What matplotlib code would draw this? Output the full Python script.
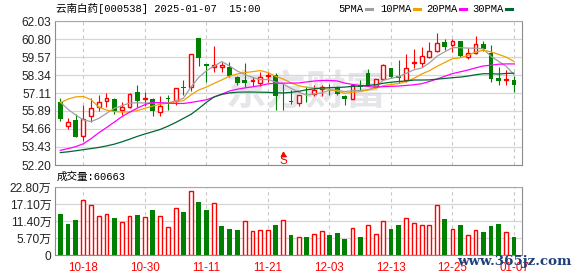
import numpy as np
import matplotlib
matplotlib.use('Agg')
import matplotlib.pyplot as plt
from matplotlib.lines import Line2D

# trading days shown (one candle each)
dates = ['10-15', '10-16', '10-17', '10-18', '10-21', '10-22', '10-23', '10-24', '10-25', '10-28',
         '10-29', '10-30', '10-31', '11-01', '11-04', '11-05', '11-06', '11-07', '11-08', '11-11',
         '11-12', '11-13', '11-14', '11-15', '11-18', '11-19', '11-20', '11-21', '11-22', '11-25',
         '11-26', '11-27', '11-28', '11-29', '12-02', '12-03', '12-04', '12-05', '12-06', '12-09',
         '12-10', '12-11', '12-12', '12-13', '12-16', '12-17', '12-18', '12-19', '12-20', '12-23',
         '12-24', '12-25', '12-26', '12-27', '12-30', '12-31', '01-02', '01-03', '01-06', '01-07']

opens = [56.50, 54.86, 55.30, 54.20, 55.56, 56.15, 56.54, 56.73, 55.95, 56.15,
         57.21, 56.69, 56.70, 55.80, 56.75, 56.59, 57.53, 57.51, 60.85, 59.09,
         58.92, 58.87, 58.91, 58.24, 58.01, 57.96, 57.83, 58.30, 58.35, 57.20,
         56.57, 56.43, 57.28, 57.06, 57.38, 57.49, 57.48, 56.93, 56.70, 57.62,
         58.46, 57.60, 58.06, 58.80, 58.25, 58.01, 59.14, 59.14, 59.59, 60.00,
         60.61, 60.36, 60.65, 59.59, 59.86, 60.43, 59.86, 58.12, 58.01, 58.01]
highs = [56.77, 55.40, 55.68, 56.30, 56.77, 57.00, 57.10, 56.76, 56.49, 57.10,
         57.66, 57.20, 56.76, 56.88, 56.99, 57.46, 58.01, 59.79, 60.88, 59.10,
         60.35, 59.25, 59.21, 58.28, 59.19, 58.24, 58.58, 58.58, 58.46, 57.78,
         57.33, 56.99, 57.56, 57.67, 57.67, 57.72, 57.60, 56.95, 57.70, 58.01,
         58.73, 58.10, 59.07, 58.82, 59.37, 59.77, 60.09, 60.27, 60.61, 61.22,
         60.77, 60.77, 60.65, 60.16, 60.99, 60.65, 60.38, 58.87, 58.69, 58.28]
lows = [55.22, 54.63, 54.10, 53.82, 55.12, 55.86, 56.19, 55.70, 55.63, 56.08,
        56.19, 56.22, 55.57, 55.57, 55.98, 56.32, 56.99, 57.22, 58.96, 57.90,
        58.58, 58.58, 58.24, 57.67, 57.51, 57.56, 57.56, 57.90, 55.98, 55.98,
        56.38, 56.20, 56.47, 56.88, 56.88, 56.99, 57.00, 56.32, 56.68, 57.22,
        57.62, 57.55, 58.00, 58.15, 57.78, 57.90, 58.80, 58.91, 59.48, 59.93,
        60.04, 59.93, 59.59, 59.41, 59.77, 60.00, 57.90, 57.67, 57.67, 57.15]
closes = [55.33, 55.13, 54.10, 55.34, 56.08, 56.47, 56.80, 55.86, 56.17, 57.03,
          56.58, 56.74, 55.86, 56.25, 56.70, 57.44, 57.49, 59.77, 59.48, 58.96,
          59.02, 59.03, 58.28, 57.78, 57.78, 58.03, 58.24, 58.37, 56.88, 57.15,
          56.52, 56.99, 57.24, 57.33, 57.51, 57.44, 57.05, 56.72, 57.67, 57.54,
          57.67, 58.06, 59.03, 58.24, 58.17, 58.80, 59.25, 59.64, 59.98, 60.50,
          60.27, 60.65, 59.64, 59.86, 60.43, 60.09, 58.08, 57.96, 58.08, 57.63]

ma5 = [56.50, 56.00, 55.62, 55.28, 55.16, 55.38, 55.72, 56.07, 56.24, 56.43,
       56.45, 56.43, 56.44, 56.46, 56.41, 56.59, 56.75, 57.53, 58.18, 58.63,
       58.95, 59.26, 58.96, 58.62, 58.38, 58.18, 58.02, 58.04, 57.86, 57.73,
       57.43, 57.18, 56.96, 57.05, 57.12, 57.30, 57.31, 57.21, 57.28, 57.28,
       57.33, 57.53, 57.99, 58.11, 58.23, 58.46, 58.70, 58.82, 59.17, 59.63,
       59.93, 60.21, 60.21, 60.18, 60.17, 60.13, 59.62, 59.28, 58.93, 58.37]
ma10 = [56.45, 56.70, 56.85, 56.88, 56.66, 56.15, 55.95, 55.85, 55.82, 55.82,
        55.91, 56.07, 56.22, 56.35, 56.42, 56.52, 56.59, 56.99, 57.32, 57.52,
        57.77, 58.01, 58.26, 58.41, 58.51, 58.57, 58.65, 58.51, 58.25, 58.07,
        57.81, 57.61, 57.50, 57.46, 57.43, 57.37, 57.25, 57.09, 57.17, 57.21,
        57.32, 57.43, 57.61, 57.70, 57.76, 57.90, 58.12, 58.41, 58.64, 58.94,
        59.20, 59.46, 59.52, 59.68, 59.91, 60.04, 59.92, 59.75, 59.56, 59.27]
ma20 = [53.20, 53.32, 53.45, 53.65, 54.00, 54.40, 54.75, 55.12, 55.50, 55.80,
        56.08, 56.32, 56.48, 56.45, 56.42, 56.40, 56.40, 56.47, 56.56, 56.65,
        56.84, 57.04, 57.25, 57.37, 57.46, 57.54, 57.62, 57.74, 57.78, 57.79,
        57.79, 57.80, 57.87, 57.93, 57.97, 57.97, 57.94, 57.79, 57.70, 57.63,
        57.56, 57.51, 57.55, 57.57, 57.59, 57.63, 57.68, 57.75, 57.90, 58.07,
        58.26, 58.44, 58.56, 58.68, 58.83, 58.96, 59.01, 59.08, 59.10, 59.10]
ma30 = [53.05, 53.10, 53.17, 53.25, 53.32, 53.40, 53.50, 53.62, 53.78, 53.96,
        54.15, 54.32, 54.47, 54.63, 54.85, 55.10, 55.38, 55.66, 56.05, 56.48,
        56.85, 57.02, 57.12, 57.17, 57.18, 57.18, 57.17, 57.16, 57.13, 57.12,
        57.16, 57.23, 57.33, 57.40, 57.45, 57.48, 57.49, 57.52, 57.57, 57.59,
        57.63, 57.68, 57.78, 57.85, 57.90, 57.94, 58.00, 58.00, 58.01, 58.06,
        58.11, 58.16, 58.20, 58.27, 58.36, 58.43, 58.43, 58.41, 58.45, 58.47]

# volume in 万 (10k shares), colour flag 1 = red
volumes = [13.7, 10.4, 11.7, 18.6, 16.6, 13.0, 13.9, 12.4, 11.1, 13.0,
           13.4, 12.6, 15.1, 13.0, 9.3, 15.6, 14.4, 21.3, 17.7, 15.1,
           17.3, 9.7, 8.7, 8.5, 11.3, 8.1, 8.4, 8.4, 10.1, 11.7,
           6.8, 6.0, 6.1, 7.0, 8.1, 6.8, 7.4, 5.2, 9.0, 6.1,
           10.0, 7.0, 11.3, 8.7, 10.1, 12.3, 10.6, 10.0, 10.0, 16.9,
           12.1, 8.7, 10.1, 6.6, 8.4, 7.7, 9.7, 10.4, 7.6, 6.0663]
vol_up = [0, 0, 0, 1, 1, 1, 1, 0, 1, 1, 0, 1, 0, 1, 1, 1, 0, 1, 0, 0,
          1, 0, 0, 0, 1, 1, 1, 1, 0, 1, 0, 1, 0, 1, 1, 0, 0, 0, 1, 0,
          1, 1, 1, 0, 0, 1, 1, 1, 1, 1, 0, 1, 0, 1, 1, 0, 0, 0, 1, 0]

price_ticks = [52.20, 53.43, 54.66, 55.89, 57.11, 58.34, 59.57, 60.80, 62.03]
vol_ticks = [0, 5.70, 11.40, 17.10, 22.80]
vol_labels = ['0', '5.70万', '11.40万', '17.10万', '22.80万']
tick_idx = [3, 11, 19, 27, 35, 43, 51, 59]
ma_names = ['5PMA', '10PMA', '20PMA', '30PMA']
ma_colors = ['#a0a0a0', '#f0a000', '#ff00ff', '#006633']

W, H = 578, 276
RED = '#ff0000'
GREEN = '#008000'
SANS = ['Liberation Sans', 'Noto Sans CJK SC']
MONO = ['Liberation Mono', 'Noto Sans CJK SC']
GRID = '#d6d6d6'
FRAME = '#8c8c8c'


def rect(l, t, r, b):
    return [l / W, 1 - b / H, (r - l) / W, (b - t) / H]


def fxy(x, y):
    return x / W, 1 - y / H


fig = plt.figure(figsize=(W / 100, H / 100), dpi=100)
ax = fig.add_axes(rect(55, 21, 522, 165))
axv = fig.add_axes(rect(55, 187, 522, 255))

x = np.arange(len(closes))
o, h, l, c = (np.array(v) for v in (opens, highs, lows, closes))
up = c >= o
top = np.maximum(o, c)
bot = np.minimum(o, c)
body = np.maximum(top - bot, 0.02)
bw = 0.62

for a in (ax, axv):
    a.set_xlim(-0.69, 60.04)
    for i in tick_idx:
        a.axvline(i, color='#c8c8c8', lw=0.8, ls=(0, (3, 3)), zorder=0.5)
    for s in ('left', 'bottom', 'right'):
        a.spines[s].set_color(FRAME)
    a.spines['top'].set_color('#a8a8a8')
    a.tick_params(length=0, labelsize=8.6, colors='#222222', pad=2.5)
    a.grid(axis='y', color=GRID, lw=0.9, zorder=0.4)

# price panel
ax.set_ylim(52.20, 62.03)
ax.set_yticks(price_ticks)
ax.set_yticklabels(['%.2f' % p for p in price_ticks], family=SANS)
ax.set_xticks([])

ax.text(32, 57.15, '东方财富', ha='center', va='center', fontsize=29, weight='bold',
        color='#e6e6ea', family=['Noto Sans CJK SC'], zorder=0.6)

ax.vlines(x[~up], l[~up], h[~up], color=GREEN, lw=0.8, zorder=2)
ax.bar(x[~up], body[~up], bottom=bot[~up], width=bw, color=GREEN, lw=0, zorder=2)
ax.vlines(x[up], top[up], h[up], color=RED, lw=0.8, zorder=2)
ax.vlines(x[up], l[up], bot[up], color=RED, lw=0.8, zorder=2)
ax.bar(x[up], body[up], bottom=bot[up], width=bw - 0.12, facecolor='white',
       edgecolor=RED, lw=1.0, zorder=2)

for ma, col in zip((ma5, ma10, ma20, ma30), ma_colors):
    ax.plot(x, ma, color=col, lw=0.9, zorder=3)

# sell marker
ax.plot(29, 52.95, marker='^', ms=3.2, color=RED, zorder=4)
ax.text(29, 52.50, 'S', color=RED, ha='center', va='center', fontsize=8.5,
        family=SANS, zorder=4)

# volume panel
axv.set_ylim(0, 22.80)
axv.set_yticks(vol_ticks)
axv.set_yticklabels(vol_labels, family=SANS)
axv.set_xticks(tick_idx)
axv.set_xticklabels([dates[i] for i in tick_idx], family=SANS, color=RED, fontsize=8.4)
axv.tick_params(axis='x', pad=5.2)
vu = np.array(vol_up) == 1
vol = np.array(volumes)
axv.bar(x[~vu], vol[~vu], width=bw, color=GREEN, lw=0, zorder=2)
axv.bar(x[vu], vol[vu], width=bw - 0.12, facecolor='white', edgecolor=RED, lw=1.0, zorder=2)

# header texts
fig.text(*fxy(56, 8.5), '云南白药[000538] 2025-01-07  15:00', family=MONO,
         fontsize=7.6, va='center', ha='left', color='#000000')
leg_x = [338, 380, 426, 472]
for name, col, lx in zip(ma_names, ma_colors, leg_x):
    fig.text(*fxy(lx, 8.5), name, family=MONO, fontsize=7.6, va='center', ha='left', color='#000000')
    dx = lx + len(name) * 6.2 + 3
    fig.add_artist(Line2D([dx / W, (dx + 6) / W], [1 - 8.5 / H] * 2, color=col, lw=2.2))

fig.text(*fxy(57, 177), '成交量:%d' % round(volumes[-1] * 10000), family=MONO,
         fontsize=7.6, va='center', ha='left', color='#000000')

# site watermark sits over the last date label, as in the source image
fig.text(*fxy(457, 262), 'www.365jz.com', family=['DejaVu Serif'], weight='bold',
         fontsize=9.6, color='#1f3f7a', va='center', ha='left')

fig.savefig('out.png', dpi=100)
